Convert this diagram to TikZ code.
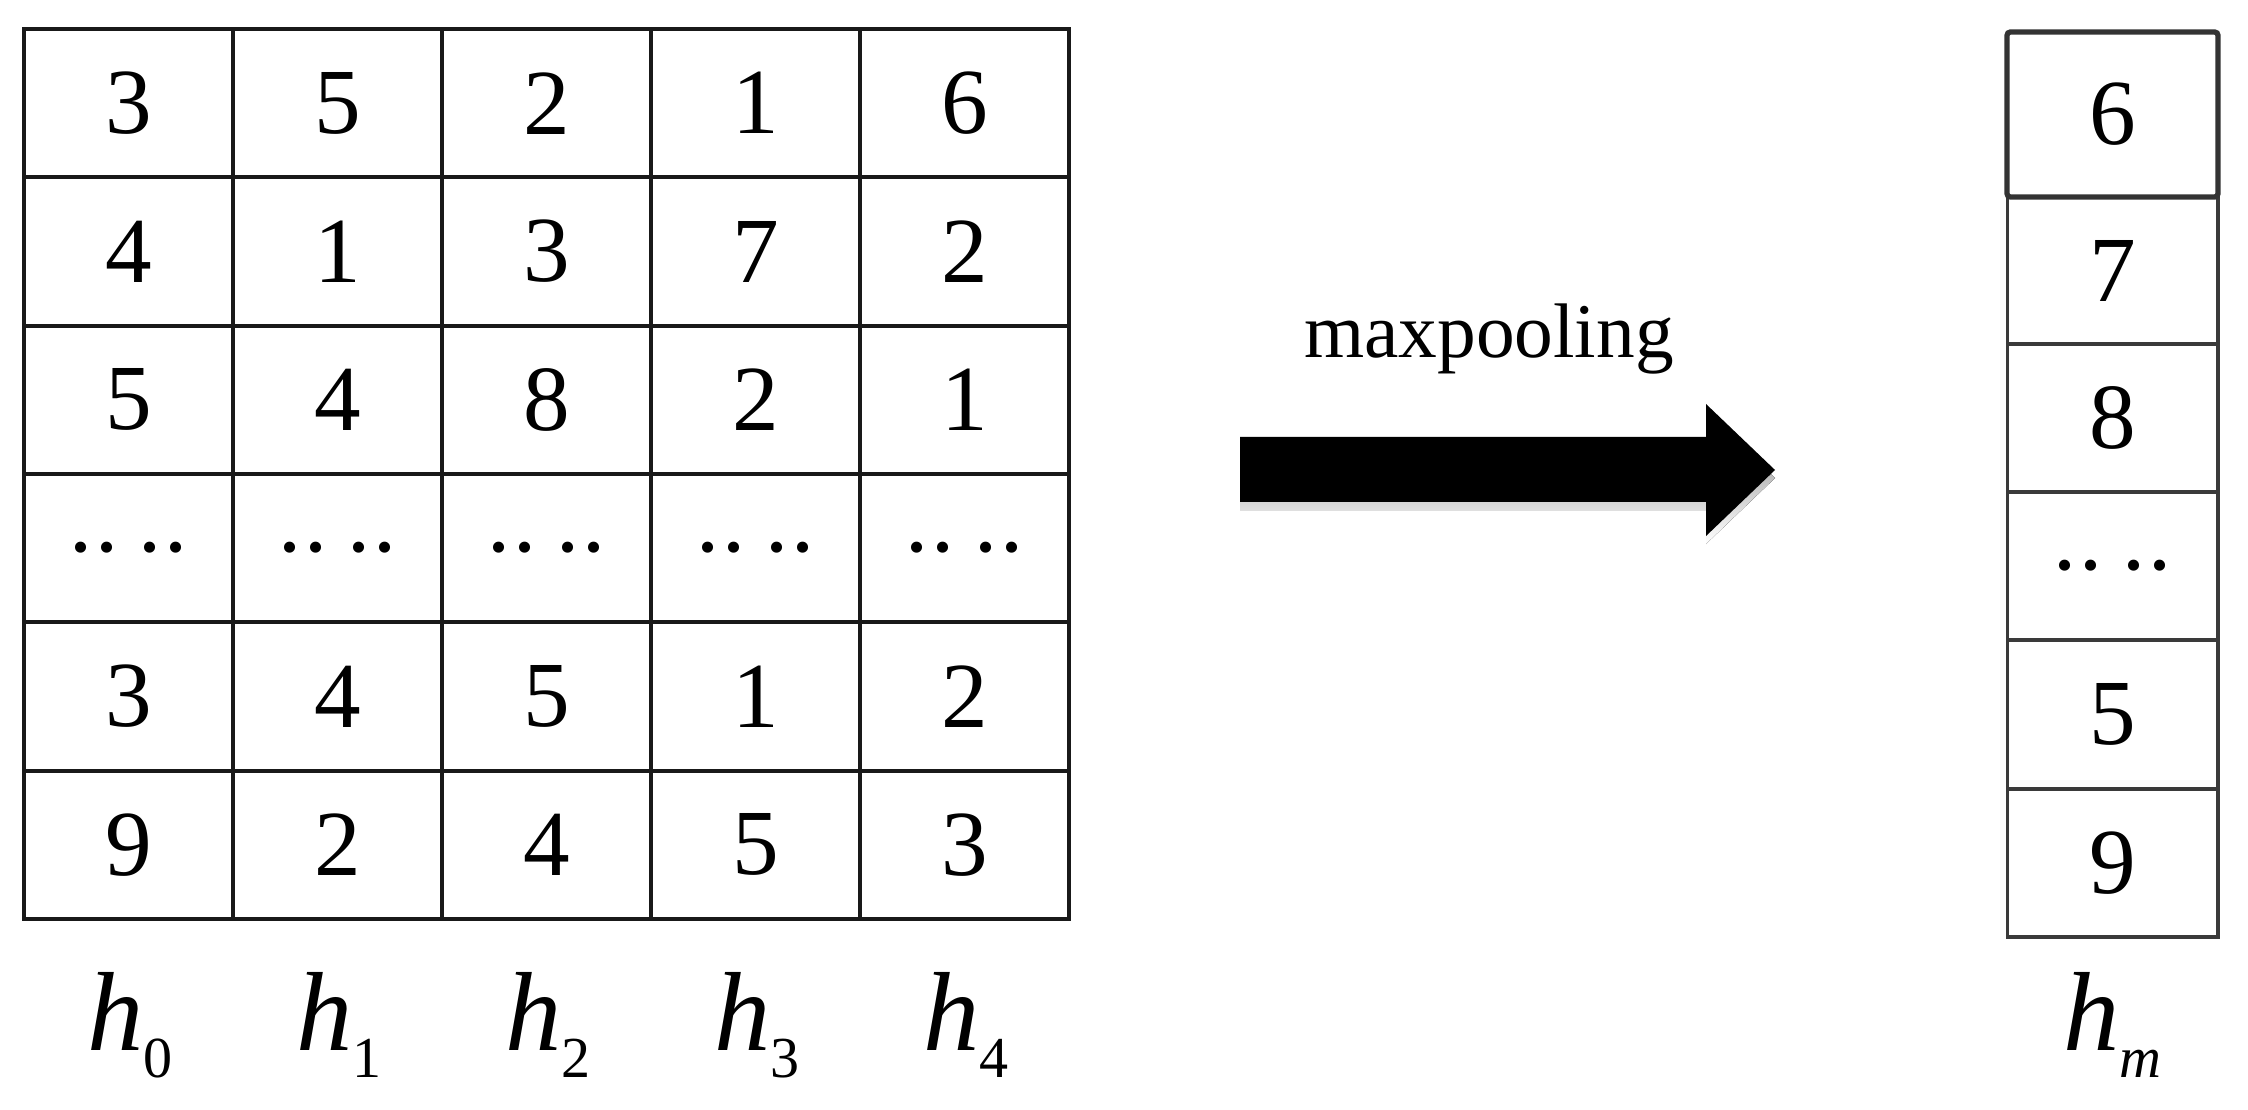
\documentclass[tikz,border=0pt]{standalone}
\usepackage{fontspec}
\setmainfont{Liberation Serif}
\definecolor{boxgray}{HTML}{333333}
\definecolor{cellgray}{HTML}{3A3A3A}
\definecolor{shade}{HTML}{E6ECF7}
\newcommand\onedot{\makebox[7.4pt]{·}}
\newcommand\mydots{\raisebox{-3.5pt}[\height][0pt]{\onedot\onedot\hspace{4.6pt}\onedot\onedot}}
\newcommand\hsym[1]{{\fontsize{32}{32}\selectfont\itshape h}\raisebox{-7.7pt}{\fontsize{16.5}{16.5}\selectfont #1}}
\begin{document}
\begin{tikzpicture}[x=0.01cm,y=-0.01cm,
  digitfont/.style={font=\fontsize{26.5}{26.5}\selectfont},
  cell/.style={digitfont, draw=black!90, line width=1.1pt, minimum width=2.09cm,
    minimum height=1.4833cm, inner sep=0pt, outer sep=0pt},
  rcell/.style={digitfont, draw=cellgray, line width=1.1pt, minimum width=2.10cm,
    minimum height=1.48cm, inner sep=0pt, outer sep=0pt},
  topbox/.style={digitfont, draw=boxgray, fill=white, line width=1.5pt, rounded corners=1pt,
    minimum width=2.11cm, minimum height=1.65cm, inner sep=0pt, outer sep=0pt},
  lab/.style={inner sep=0pt, anchor=base},
  opname/.style={font=\fontsize{22}{22}\selectfont, inner sep=0pt, anchor=base}]
\useasboundingbox (0,0) rectangle (2248,1110);
% input matrix
\foreach \row [count=\j from 0] in {{3,5,2,1,6},{4,1,3,7,2},{5,4,8,2,1},{\mydots,\mydots,\mydots,\mydots,\mydots},{3,4,5,1,2},{9,2,4,5,3}} {
  \foreach \v [count=\i from 0] in \row {
    \node[cell] (g-\j-\i) at ({128.5+209*\i},{103.2+148.33*\j}) {\v};
  }
}
% column labels
\foreach \i in {0,...,4} {
  \node[lab] (h-\i) at ({130+209*\i},1050) {\hsym{\i}};
}
% output column
\foreach \v/\y [count=\k] in {7/270.5, 8/418, \mydots/566, 5/714.5, 9/863} {
  \node[rcell] (r-\k) at (2112.5,\y) {\v};
}
\node[topbox] (r-0) at (2112.5,114.5) {6};
\node[lab] (h-m) at (2112.5,1050) {\hsym{\itshape m}};
% operation label and arrow
\node[opname] (op) at (1489,358) {maxpooling};
\coordinate (a-s1) at (1240,437);
\coordinate (a-h1) at (1706,437);
\coordinate (a-h2) at (1706,404);
\coordinate (a-tip) at (1775,470);
\coordinate (a-h3) at (1706,536);
\coordinate (a-h4) at (1706,502);
\coordinate (a-s2) at (1240,502);
\fill[shade] ([yshift=-0.08cm]a-s1) -- ([yshift=-0.08cm]a-h1) -- ([yshift=-0.08cm]a-h2)
  -- ([yshift=-0.08cm]a-tip) -- ([yshift=-0.08cm]a-h3) -- ([yshift=-0.08cm]a-h4)
  -- ([yshift=-0.08cm]a-s2) -- cycle;
\fill[black] (a-s1) -- (a-h1) -- (a-h2) -- (a-tip) -- (a-h3) -- (a-h4) -- (a-s2) -- cycle;
\end{tikzpicture}
\end{document}
